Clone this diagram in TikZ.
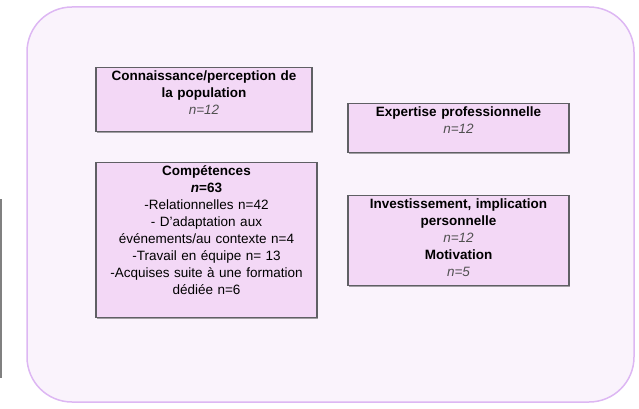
\documentclass[tikz,border=0pt]{standalone}
\usepackage{fontspec}
\setmainfont{Liberation Sans}
\usetikzlibrary{shadows}
\definecolor{framefill}{RGB}{250,243,252}
\definecolor{frameline}{RGB}{221,183,243}
\definecolor{boxfill}{RGB}{243,216,246}
\definecolor{boxline}{RGB}{95,95,100}
\definecolor{ngray}{RGB}{80,80,80}
\newcommand{\nval}[1]{{\color{ngray}\itshape #1}}
\begin{document}
\begin{tikzpicture}[x=1pt,y=-1pt,font=\fontsize{13.5}{17}\selectfont,
  box/.style={draw=boxline,line width=1.1pt,fill=boxfill,anchor=north,align=center,inner sep=3pt,text height=10pt,
    drop shadow={shadow xshift=1pt,shadow yshift=-1pt,opacity=0.35,fill=black}}]
\useasboundingbox(0,0)rectangle(639,409);
\draw[frameline,fill=framefill,line width=1.5pt,rounded corners=45pt](27,7)rectangle(634,402);
\draw[gray,line width=1.5pt](1,199)--(1,378);
\node[box,text width=210pt,text depth=48pt](pop)at(204,67){\textbf{Connaissance/perception de}\\\textbf{la population}\\\nval{n=12}};
\node[box,text width=215pt,text depth=33pt](expert)at(458.5,103){\textbf{Expertise professionnelle}\\\nval{n=12}};
\node[box,text width=215pt,text depth=139pt](comp)at(206.5,162){\textbf{Compétences}\\\textbf{\textit{n}=63}\\-Relationnelles n=42\\- D'adaptation aux\\événements/au contexte n=4\\-Travail en équipe n= 13\\-Acquises suite à une formation\\dédiée n=6};
\node[box,text width=215pt,text depth=74pt](invest)at(458.5,195){\textbf{Investissement, implication}\\\textbf{personnelle}\\\nval{n=12}\\\textbf{Motivation}\\\nval{n=5}};
\end{tikzpicture}
\end{document}
